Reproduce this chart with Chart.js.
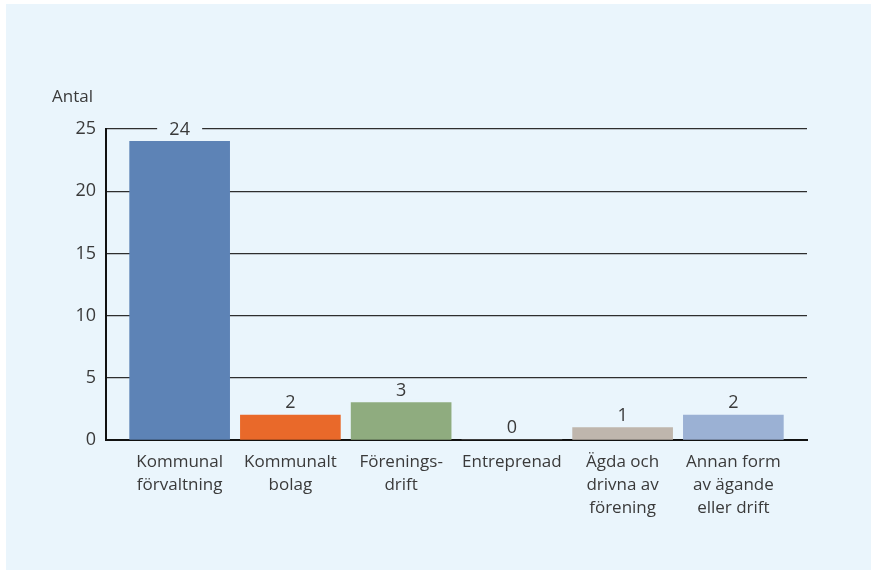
<!DOCTYPE html>
<html lang="sv">
<head>
<meta charset="utf-8">
<title>Antal anläggningar per driftform</title>
<script src="https://cdn.jsdelivr.net/npm/chart.js"></script>
<style>
  html, body { margin: 0; padding: 0; background: #ffffff; }
  #wrap { position: absolute; left: 0; top: 0; width: 871px; height: 570px; }
</style>
</head>
<body>
<div id="wrap"><canvas id="diagram" width="871" height="570"></canvas></div>
<script>
// Data
const kategorier = [
  ['Kommunal', 'förvaltning'],
  ['Kommunalt', 'bolag'],
  ['Förenings-', 'drift'],
  ['Entreprenad'],
  ['Ägda och', 'drivna av', 'förening'],
  ['Annan form', 'av ägande', 'eller drift']
];
const antal = [24, 2, 3, 0, 1, 2];
const farger = ['#5d83b6', '#e9692a', '#8fac7f', '#c8c8c8', '#bfb6ad', '#9bb1d4'];
const yTicks = [0, 5, 10, 15, 20, 25];

const panelFarg = '#eaf5fc';
const textFarg = '#3a3a3a';
const typsnitt = 'Open Sans';

// Bakgrund (ljusblå panel)
const panel = {
  id: 'panel',
  beforeDraw(chart) {
    const c = chart.ctx;
    c.save();
    c.fillStyle = panelFarg;
    c.fillRect(6, 4, chart.width - 6, chart.height - 4);
    c.restore();
  }
};

// Y-axelns rubrik "Antal"
const axelRubrik = {
  id: 'axelRubrik',
  afterDraw(chart) {
    const c = chart.ctx;
    c.save();
    c.font = '17px "' + typsnitt + '"';
    c.fillStyle = textFarg;
    c.textAlign = 'left';
    c.textBaseline = 'middle';
    c.fillText('Antal', 52, 97);
    c.restore();
  }
};

// Värden ovanför staplarna, med bakgrund som bryter stödlinjerna
const varden = {
  id: 'varden',
  afterDatasetsDraw(chart) {
    const c = chart.ctx;
    const meta = chart.getDatasetMeta(0);
    c.save();
    c.font = '18px "' + typsnitt + '"';
    c.textAlign = 'center';
    c.textBaseline = 'middle';
    meta.data.forEach((bar, i) => {
      const mitt = bar.y - 12;
      c.fillStyle = panelFarg;
      c.fillRect(bar.x - 22.5, mitt - 9, 45, 18);
      c.fillStyle = textFarg;
      c.fillText(String(antal[i]), bar.x, mitt);
    });
    c.restore();
  }
};

new Chart(document.getElementById('diagram').getContext('2d'), {
  type: 'bar',
  data: {
    datasets: [{
      data: antal.map((v, i) => ({ x: i, y: v })),
      backgroundColor: farger,
      barThickness: 100,
      borderWidth: 0
    }]
  },
  options: {
    responsive: false,
    animation: false,
    events: [],
    layout: { padding: { top: 129, right: 64, bottom: 0, left: 0 } },
    plugins: { legend: { display: false }, tooltip: { enabled: false } },
    scales: {
      x: {
        type: 'linear',
        offset: false,
        min: -0.665,
        max: 5.665,
        afterBuildTicks: (scale) => { scale.ticks = kategorier.map((k, i) => ({ value: i })); },
        afterFit: (scale) => { scale.height = 130; },
        grid: { display: false, offset: false },
        border: { display: true, color: '#111111', width: 2 },
        ticks: {
          autoSkip: false,
          maxRotation: 0,
          padding: 3,
          color: textFarg,
          font: { family: typsnitt, size: 17, lineHeight: 1.35 },
          callback: (v) => kategorier[v]
        }
      },
      y: {
        min: 0,
        max: 25,
        afterBuildTicks: (scale) => { scale.ticks = yTicks.map(v => ({ value: v })); },
        afterFit: (scale) => { scale.width = 106; },
        grid: { color: '#2e2e2e', lineWidth: 1.2, drawTicks: false },
        border: { display: true, color: '#111111', width: 2 },
        ticks: {
          padding: 10,
          color: textFarg,
          font: { family: typsnitt, size: 18 }
        }
      }
    }
  },
  plugins: [panel, axelRubrik, varden]
});
</script>
</body>
</html>
